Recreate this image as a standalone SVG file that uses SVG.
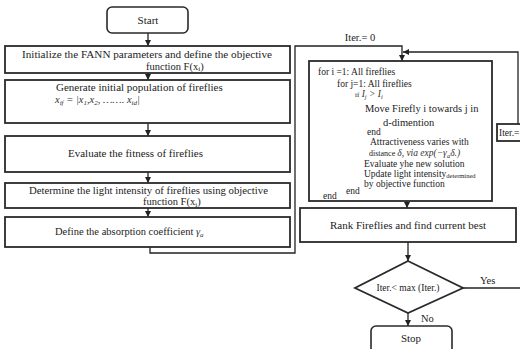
<svg xmlns="http://www.w3.org/2000/svg" width="520" height="349" viewBox="0 0 520 349">
<style>
.box{fill:#fff;stroke:#2a2a2a;stroke-width:1.8}
.rbox{fill:#fff;stroke:#2a2a2a;stroke-width:1.6}
.ln{fill:none;stroke:#222;stroke-width:1.3}
.t{font-family:"Liberation Serif","DejaVu Serif","Times New Roman",serif;font-size:10.5px;fill:#222}
.b{font-size:11px}
.s{font-family:"Liberation Serif","DejaVu Serif","Times New Roman",serif;font-size:9.5px;fill:#222}
.m{font-family:"Liberation Serif","DejaVu Serif","Times New Roman",serif;font-style:italic;fill:#333}
.c{text-anchor:middle}
</style>
<defs>
<marker id="ah" viewBox="0 0 6 6" refX="6" refY="3" markerWidth="6" markerHeight="6" markerUnits="userSpaceOnUse" orient="auto">
<path d="M0,0 L6,3 L0,6 z" fill="#222"/>
</marker>
</defs>
<rect width="520" height="349" fill="#fff"/>

<g id="connectors">
<path class="ln" d="M148,33 V46" marker-end="url(#ah)"/>
<path class="ln" d="M148,73 V80" marker-end="url(#ah)"/>
<path class="ln" d="M148,123 V136" marker-end="url(#ah)"/>
<path class="ln" d="M148,172 V183" marker-end="url(#ah)"/>
<path class="ln" d="M148,208 V217" marker-end="url(#ah)"/>
<path class="ln" d="M150,247 V253 H295 V46 H402 V61" marker-end="url(#ah)"/>
<path class="ln" d="M518,124 V52 H403" marker-end="url(#ah)"/>
<path class="ln" d="M407,201 V208" marker-end="url(#ah)"/>
<path class="ln" d="M408,242 V261" marker-end="url(#ah)"/>
<path class="ln" d="M408,313 V326" marker-end="url(#ah)"/>
<path class="ln" d="M463,288 H520"/>
<text class="t c" x="360" y="41">Iter.= 0</text>
<text class="t" x="480" y="284">Yes</text>
<text class="t" x="421" y="322">No</text>
</g>

<g id="start">
<rect class="rbox" x="107" y="7" width="81" height="26" rx="5"/>
<text class="t b c" x="148" y="24">Start</text>
</g>

<g id="init">
<rect class="box" x="5" y="46" width="285" height="27"/>
<text class="t" x="22" y="58" textLength="250" lengthAdjust="spacingAndGlyphs">Initialize the FANN parameters and define the objective</text>
<text class="t" x="146" y="69.5">function F(x<tspan font-size="7" dy="1.5">i</tspan><tspan dy="-1.5">)</tspan></text>
</g>

<g id="generate">
<rect class="box" x="5" y="80" width="285" height="43"/>
<text class="t b" x="56" y="91">Generate initial population of fireflies</text>
<text class="m" x="55" y="103" font-size="10.5">x<tspan font-size="7" dy="2">if</tspan><tspan dy="-2"> = |x</tspan><tspan font-size="7" dy="2">1</tspan><tspan dy="-2">,x</tspan><tspan font-size="7" dy="2">2</tspan><tspan dy="-2">, ……. x</tspan><tspan font-size="7" dy="2">id</tspan><tspan dy="-2">|</tspan></text>
</g>

<g id="evaluate">
<rect class="box" x="5" y="136" width="285" height="36"/>
<text class="t b" x="68" y="157">Evaluate the fitness of fireflies</text>
</g>

<g id="determine">
<rect class="box" x="5" y="183" width="285" height="25"/>
<text class="t" x="29" y="194" textLength="239" lengthAdjust="spacingAndGlyphs">Determine the light intensity of fireflies using objective</text>
<text class="t" x="143" y="205">function F(x<tspan font-size="7" dy="1.5">i</tspan><tspan dy="-1.5">)</tspan></text>
</g>

<g id="absorption">
<rect class="box" x="5" y="217" width="285" height="30"/>
<text class="t" x="55" y="235">Define the absorption coefficient <tspan class="m">γ</tspan><tspan class="m" font-size="7" dy="2">a</tspan></text>
</g>

<g id="loop">
<rect class="box" x="309" y="61" width="183" height="140"/>
<text class="s" x="318" y="75">for i =1: All fireflies</text>
<text class="s" x="337" y="87">for j=1: All fireflies</text>
<text class="s" x="355" y="97"><tspan font-size="7">if</tspan> <tspan class="m">I</tspan><tspan class="m" font-size="6.5" dy="2">j</tspan><tspan class="m" dy="-2"> &gt; I</tspan><tspan class="m" font-size="6.5" dy="2">i</tspan></text>
<text class="t" x="365" y="112">Move Firefly i towards j in</text>
<text class="t" x="383" y="126">d-dimention</text>
<text class="s" x="367" y="135">end</text>
<text class="s" x="370" y="145">Attractiveness varies with</text>
<text class="s" x="369" y="156"><tspan font-size="8">distance </tspan><tspan class="m">δ, via exp(−γ</tspan><tspan class="m" font-size="6.5" dy="1.5">a</tspan><tspan class="m" dy="-1.5">δ.)</tspan></text>
<text class="s" x="364" y="166.5">Evaluate yhe new solution</text>
<text class="s" x="364" y="176.5">Update light intensity<tspan font-size="6.5" dy="1">determined</tspan></text>
<text class="s" x="364" y="186.5">by objective function</text>
<text class="s" x="346" y="193.5" font-size="7.5">end</text>
<text class="s" x="323" y="198.5" font-size="7">end</text>
</g>

<g id="rank">
<rect class="box" x="300" y="208" width="216" height="34"/>
<text class="t b c" x="408" y="229">Rank Fireflies and find current best</text>
</g>

<g id="decision">
<polygon class="box" points="408,261 463,288 408,313 355,288"/>
<text class="s c" x="408" y="291">Iter.&lt; max (Iter.)</text>
</g>

<g id="stop">
<rect class="rbox" x="371" y="326" width="81" height="30" rx="5"/>
<text class="t b c" x="411" y="342">Stop</text>
</g>

<g id="iterInc">
<rect class="box" x="497" y="124" width="30" height="17"/>
<text class="s" x="499" y="136" font-size="8">Iter.=</text>
</g>
</svg>
